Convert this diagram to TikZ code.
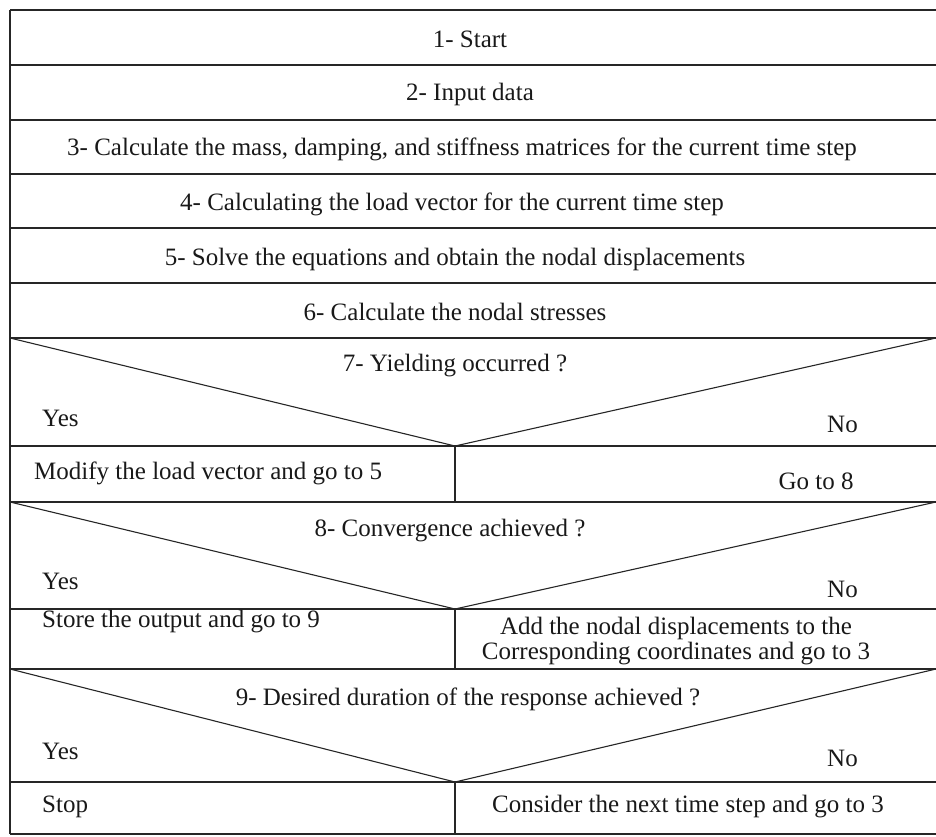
\documentclass[tikz,border=0pt]{standalone}
\usepackage{fontspec}
\setmainfont{Liberation Serif}
\begin{document}
\begin{tikzpicture}[x=1pt,y=-1pt,
  rule/.style={draw=black!85,line width=1.1pt},
  txt/.style={font=\fontsize{25}{25}\selectfont,text=black!90,inner sep=0pt},
  ltxt/.style={txt,anchor=west}]
\useasboundingbox (0,0) rectangle (936,836);
% frame coordinates
\foreach \n/\y in {a/10,b/65,c/120,d/174,e/228,f/283,g/338,h/446,i/502,j/609,k/669,l/782,m/834}{
  \coordinate (L\n) at (10,\y);
  \coordinate (R\n) at (936,\y);
}
\coordinate (V7) at (455,446);
\coordinate (V8) at (455,609);
\coordinate (V9) at (455,782);
\coordinate (B7) at (455,502);
\coordinate (B8) at (455,669);
\coordinate (B9) at (455,834);
% horizontal rules
\foreach \n in {a,b,c,d,e,f,g,h,i,j,k,l,m}{\draw[rule] (L\n) -- (R\n);}
% left border
\draw[rule] (La) -- (Lm);
% decision diagonals
\draw[rule] (Lg) -- (V7) -- (Rg);
\draw[rule] (Li) -- (V8) -- (Ri);
\draw[rule] (Lk) -- (V9) -- (Rk);
% branch dividers
\draw[rule] (V7) -- (B7);
\draw[rule] (V8) -- (B8);
\draw[rule] (V9) -- (B9);
% texts
\node[txt] (t1) at (470,39) {1- Start};
\node[txt] (t2) at (470,94) {2- Input data};
\node[txt] (t3) at (462,149) {3- Calculate the mass, damping, and stiffness matrices for the current time step};
\node[txt] (t4) at (452,204) {4- Calculating the load vector for the current time step};
\node[txt] (t5) at (455,259) {5- Solve the equations and obtain the nodal displacements};
\node[txt] (t6) at (455,312) {6- Calculate the nodal stresses};
\node[txt] (t7) at (455,366) {7- Yielding occurred ?};
\node[ltxt] (y7) at (42,418) {Yes};
\node[ltxt] (n7) at (827,424) {No};
\node[ltxt] (m7) at (34,473) {Modify the load vector and go to 5};
\node[txt] (g7) at (816,481) {Go to 8};
\node[txt] (t8) at (450,531) {8- Convergence achieved ?};
\node[ltxt] (y8) at (42,581) {Yes};
\node[ltxt] (n8) at (827,589) {No};
\node[ltxt] (s8) at (42,622) {Store the output and go to 9};
\node[txt,align=center] (a8) at (676,641) {Add the nodal displacements to the\\Corresponding coordinates and go to 3};
\node[txt] (t9) at (468,699) {9- Desired duration of the response achieved ?};
\node[ltxt] (y9) at (42,751) {Yes};
\node[ltxt] (n9) at (827,758) {No};
\node[ltxt] (s9) at (42,807) {Stop};
\node[txt] (c9) at (688,807) {Consider the next time step and go to 3};
\end{tikzpicture}
\end{document}
